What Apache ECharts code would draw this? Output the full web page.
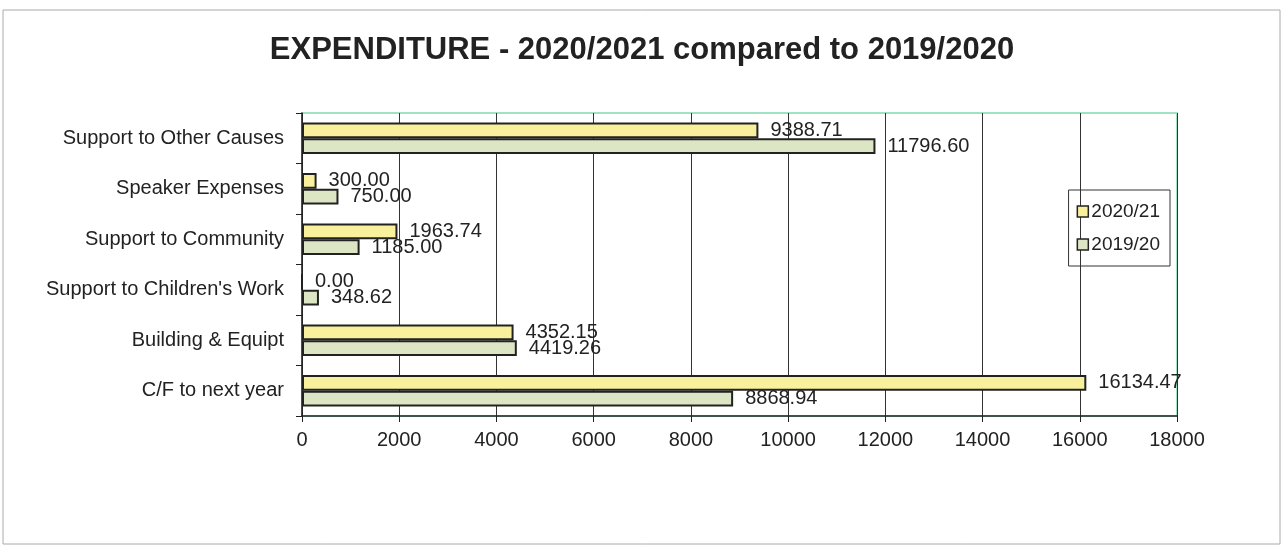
<!DOCTYPE html>
<html>
<head>
<meta charset="utf-8">
<script src="https://cdn.jsdelivr.net/npm/echarts@6/dist/echarts.min.js"></script>
<style>html,body{margin:0;padding:0;background:#fff;}#c{width:1284px;height:547px;}</style>
</head>
<body>
<div id="c"></div>
<script>
const categories = ['Support to Other Causes','Speaker Expenses','Support to Community',"Support to Children's Work",'Building & Equipt','C/F to next year'];
const series2021 = [9388.71, 300.00, 1963.74, 0.00, 4352.15, 16134.47];
const series2020 = [11796.60, 750.00, 1185.00, 348.62, 4419.26, 8868.94];
const xTicks = [0,2000,4000,6000,8000,10000,12000,14000,16000,18000];

const chart = echarts.init(document.getElementById('c'));
const font = 'Liberation Sans, Arial, sans-serif';
const lbl = {show:true, position:'right', distance:12, color:'#222', fontSize:20, fontFamily:font,
  formatter: p => Number(p.value).toFixed(2)};
chart.setOption({
  animation:false,
  backgroundColor:'#fff',
  graphic:[{type:'rect', shape:{x:3,y:10,width:1277,height:534}, style:{fill:'none', stroke:'#aaa', lineWidth:1}, z:-1}],
  title:{text:'EXPENDITURE - 2020/2021 compared to 2019/2020', left:'center', top:30,
    textStyle:{fontFamily:font, fontSize:31, fontWeight:'bold', color:'#222'}},
  grid:{left:302, right:107, top:113, bottom:131, show:true, borderColor:'#9fe3c3', borderWidth:2, backgroundColor:'transparent'},
  legend:{orient:'vertical', right:114, top:190, itemGap:14, itemWidth:11, itemHeight:11, icon:'rect',
    borderColor:'#333', borderWidth:1, padding:[12,10,12,8],
    itemStyle:{borderWidth:1.5, borderColor:'#222'},
    textStyle:{fontFamily:font, fontSize:19, color:'#222', padding:[0,0,0,-2]},
    data:['2020/21','2019/20']},
  xAxis:{type:'value', min:0, max:18000, interval:2000,
    axisLine:{show:true, lineStyle:{color:'#222', width:1.5}},
    axisTick:{show:true, length:6, lineStyle:{color:'#222'}},
    axisLabel:{fontFamily:font, fontSize:20, color:'#222', margin:14, formatter: v => xTicks.includes(v) ? String(v) : ''},
    splitLine:{show:true, lineStyle:{color:'#333', width:1}}},
  yAxis:{type:'category', data:categories, inverse:true,
    axisLine:{show:true, lineStyle:{color:'#222', width:1.5}},
    axisTick:{show:true, length:6, lineStyle:{color:'#222'}},
    axisLabel:{fontFamily:font, fontSize:20, color:'#222', margin:18},
    splitLine:{show:false}},
  series:[
    {name:'2020/21', type:'bar', data:series2021, barGap:'0%', barCategoryGap:'38%',
      itemStyle:{color:'#f8f09c', borderColor:'#222', borderWidth:2}, label:lbl},
    {name:'2019/20', type:'bar', data:series2020,
      itemStyle:{color:'#dce6c4', borderColor:'#222', borderWidth:2}, label:lbl}
  ]
});
</script>
</body>
</html>
